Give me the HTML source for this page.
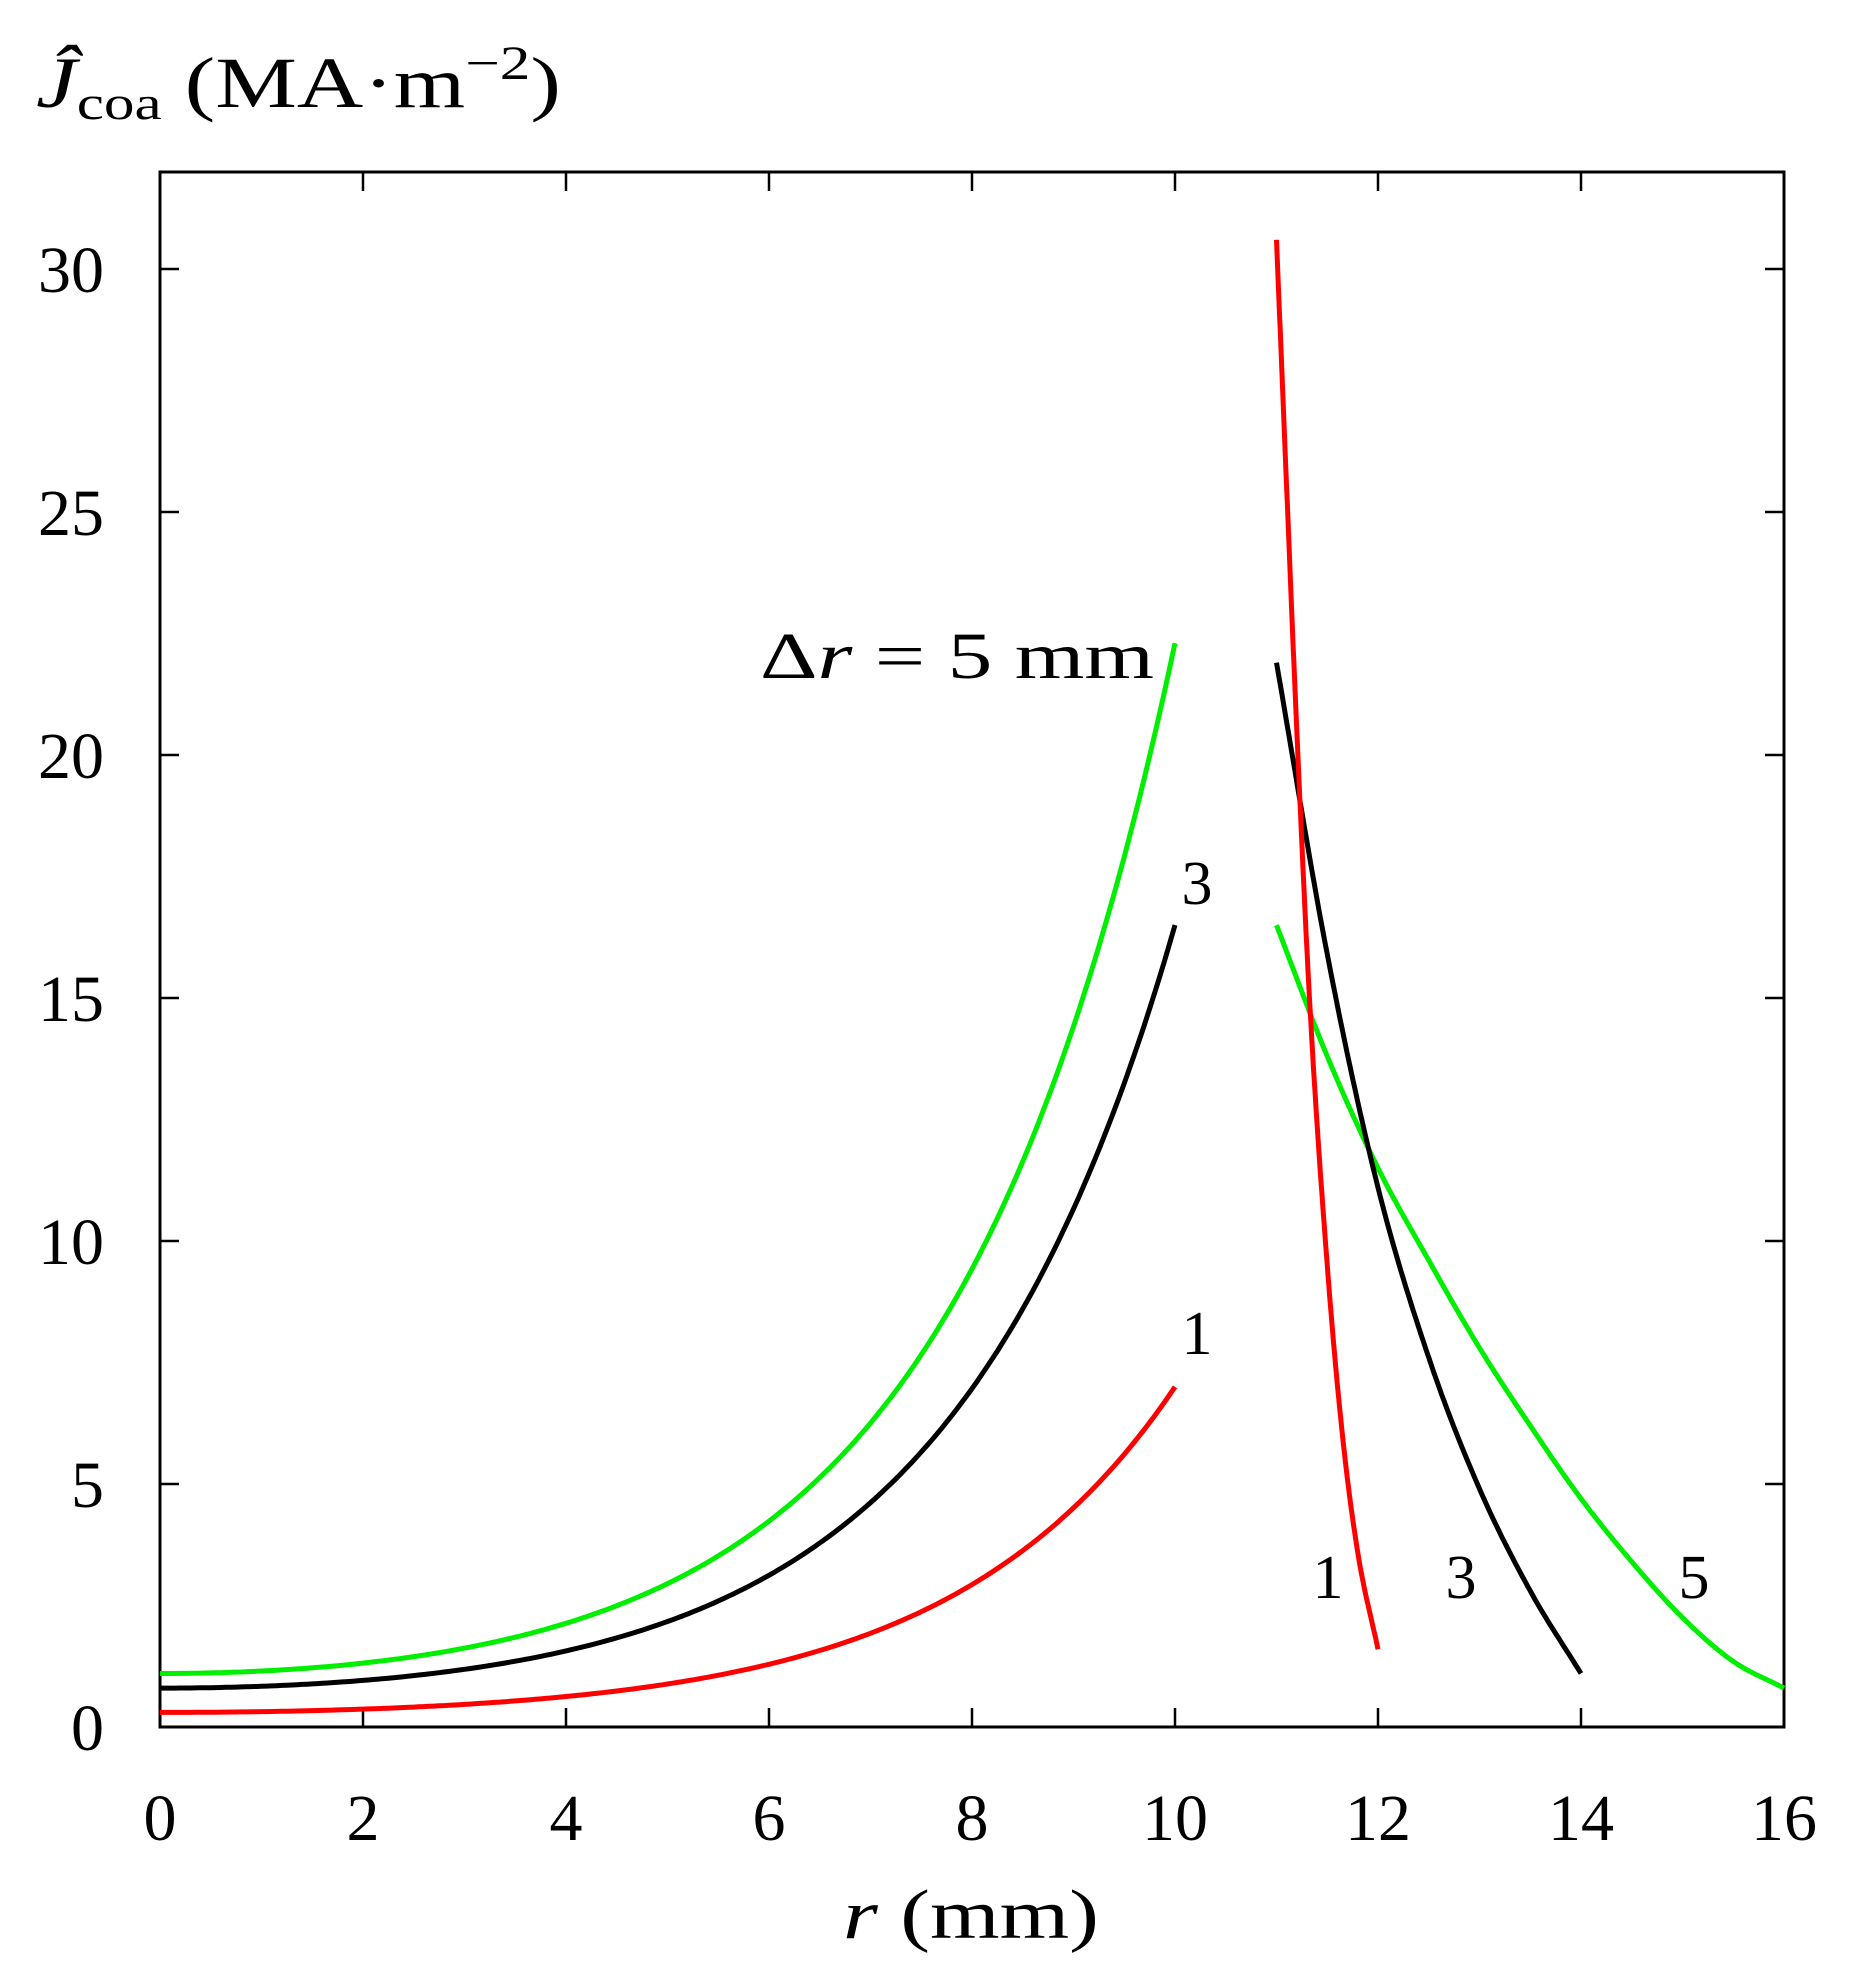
<!DOCTYPE html>
<html><head><meta charset="utf-8"><style>
html,body{margin:0;padding:0;background:#fff}
svg{display:block}
text{font-family:"Liberation Serif",serif;fill:#000}
</style></head><body>
<svg id="s" width="1854" height="1980" viewBox="0 0 1854 1980" xmlns="http://www.w3.org/2000/svg">
<rect x="160" y="172" width="1624" height="1555" fill="none" stroke="#000" stroke-width="3"/>
<g id="ticks" stroke="#000" stroke-width="2.5"></g>
<g id="curves" fill="none" stroke-width="5" stroke-linejoin="round" stroke-linecap="butt"></g>
<g font-size="66" text-anchor="end">
<text x="104" y="1750">0</text><text x="104" y="1507">5</text><text x="104" y="1264">10</text>
<text x="104" y="1021">15</text><text x="104" y="778">20</text><text x="104" y="535">25</text><text x="104" y="292">30</text>
</g>
<g font-size="66" text-anchor="middle">
<text x="160" y="1840">0</text><text x="363" y="1840">2</text><text x="566" y="1840">4</text><text x="769" y="1840">6</text>
<text x="972" y="1840">8</text><text x="1175" y="1840">10</text><text x="1378" y="1840">12</text><text x="1581" y="1840">14</text><text x="1784" y="1840">16</text>
</g>
<text x="843" y="1938" font-size="70" textLength="256" lengthAdjust="spacingAndGlyphs"><tspan font-style="italic">r</tspan> (mm)</text>
<text x="36" y="107" font-size="72" textLength="525" lengthAdjust="spacingAndGlyphs"><tspan font-style="italic">Ĵ</tspan><tspan font-size="48" dy="12">coa</tspan><tspan dy="-12"> (MA·m</tspan><tspan font-size="48" dy="-28">−2</tspan><tspan dy="28">)</tspan></text>
<text x="760" y="678" font-size="66" textLength="394" lengthAdjust="spacingAndGlyphs">Δ<tspan font-style="italic">r</tspan> = 5 mm</text>
<g font-size="62" text-anchor="middle">
<text x="1197" y="904">3</text>
<text x="1197" y="1354">1</text>
<text x="1328" y="1598">1</text>
<text x="1461" y="1598">3</text>
<text x="1694" y="1598">5</text>
</g>
</svg>
<script>
var X=function(r){return 160+r*101.5},Y=function(v){return 1727-v*48.6};
var t=document.getElementById('ticks'),h='';
for(var i=2;i<16;i+=2){var x=X(i);h+='<line x1="'+x+'" y1="1727" x2="'+x+'" y2="1708"/><line x1="'+x+'" y1="172" x2="'+x+'" y2="191"/>';}
for(var v=5;v<=30;v+=5){var y=Y(v);h+='<line x1="160" y1="'+y+'" x2="179" y2="'+y+'"/><line x1="1784" y1="'+y+'" x2="1765" y2="'+y+'"/>';}
t.innerHTML=h;
function I0(x){var s=1,term=1;for(var k=1;k<40;k++){term*=(x/2)*(x/2)/(k*k);s+=term;}return s;}
function left(c,e){var b=(e-c)/(I0(5)-1),p=[];for(var r=0;r<=10.0001;r+=0.05)p.push([r,c+b*(I0(0.5*r)-1)]);return p;}
function mono(d){var n=d.length,xs=d.map(a=>a[0]),ys=d.map(a=>a[1]),dl=[],m=[];
for(var i=0;i<n-1;i++)dl.push((ys[i+1]-ys[i])/(xs[i+1]-xs[i]));
m[0]=dl[0];m[n-1]=dl[n-2];for(i=1;i<n-1;i++){m[i]=dl[i-1]*dl[i]<=0?0:(dl[i-1]+dl[i])/2;}
for(i=0;i<n-1;i++){if(dl[i]==0){m[i]=m[i+1]=0;continue;}var a=m[i]/dl[i],b=m[i+1]/dl[i],s=a*a+b*b;if(s>9){var tt=3/Math.sqrt(s);m[i]=tt*a*dl[i];m[i+1]=tt*b*dl[i];}}
var p=[];for(i=0;i<n-1;i++){var hh=xs[i+1]-xs[i];for(var j=0;j<20;j++){var u=j/20,h00=2*u*u*u-3*u*u+1,h10=u*u*u-2*u*u+u,h01=-2*u*u*u+3*u*u,h11=u*u*u-u*u;
p.push([xs[i]+u*hh,h00*ys[i]+h10*hh*m[i]+h01*ys[i+1]+h11*hh*m[i+1]]);}}p.push(d[n-1]);return p;}
function path(p){return 'M'+p.map(a=>X(a[0]).toFixed(1)+','+Y(a[1]).toFixed(1)).join(' L');}
var S=[
['#00ee00',left(1.1,22.3)],
['#000',left(0.8,16.5)],
['#ff0000',left(0.3,7.0)],
['#00ee00',mono([[11,16.5],[11.5,13.8],[12,11.5],[12.5,9.6],[13,7.8],[13.5,6.2],[14,4.7],[14.5,3.4],[15,2.25],[15.5,1.35],[16,0.8]])],
['#000',mono([[11,21.9],[11.5,15.9],[12,11.1],[12.5,7.6],[13,4.9],[13.5,2.8],[14,1.1]])],
['#ff0000',mono([[11,30.6],[11.1,25.5],[11.2,20.5],[11.33,14.8],[11.5,9.5],[11.65,6],[11.8,3.6],[12,1.6]])]];
var c='';S.forEach(function(s){c+='<path stroke="'+s[0]+'" d="'+path(s[1])+'"/>';});
document.getElementById('curves').innerHTML=c;
</script>
</body></html>
